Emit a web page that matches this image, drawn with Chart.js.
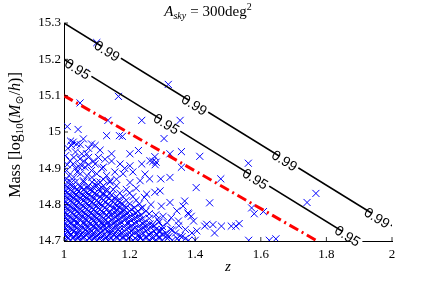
<!DOCTYPE html>
<html>
<head>
<meta charset="utf-8">
<script src="https://cdn.jsdelivr.net/npm/chart.js@4.4.0/dist/chart.umd.min.js"></script>
<style>
  html, body { margin: 0; padding: 0; background: #fff; }
</style>
</head>
<body>
<canvas id="myChart" width="421" height="285"></canvas>
<script>
// axis ticks
const xTicks = [1, 1.2, 1.4, 1.6, 1.8, 2];
const xTickLabels = ['1', '1.2', '1.4', '1.6', '1.8', '2'];
const yTicks = [14.7, 14.8, 14.9, 15, 15.1, 15.2, 15.3];
const yTickLabels = ['14.7', '14.8', '14.9', '15', '15.1', '15.2', '15.3'];

// confidence lines (z, mass)
const line99Z = [1, 2];
const line99Mass = [15.3, 14.742];
const line95Z = [1, 1.896];
const line95Mass = [15.2, 14.7];
const redZ = [1, 1.772];
const redMass = [15.1, 14.7];

// where the contour labels sit (z)
const label99Z = [1.133, 1.399, 1.674, 1.956];
const label95Z = [1.043, 1.314, 1.585, 1.866];

// clusters, scattered ones [z, mass]
const sparseHalos = [
  [1.100,15.246],[1.064,15.163],[1.318,15.131],[1.166,15.098],[1.049,15.080],[1.237,15.032],
  [1.134,15.032],[1.354,15.032],[1.010,15.015],[1.043,15.007],[1.130,14.990],[1.169,14.990],
  [1.178,14.988],[1.305,14.982],[1.562,14.914],[1.768,14.831],[1.741,14.806],[1.572,14.791],
  [1.580,14.775],[1.608,14.781],[1.534,14.748],[1.563,14.702],[1.626,14.702],[1.646,14.706],
  [1.358,14.946],[1.414,14.933],[1.277,14.932],[1.271,14.919],[1.281,14.917],[1.278,14.910],
  [1.358,14.903],[1.261,14.871],[1.295,14.871],[1.478,14.871],[1.403,14.847],[1.444,14.805],
  [1.368,14.810],[1.363,14.796],[1.378,14.777],[1.388,14.768],[1.297,14.796],[1.302,14.768],
  [1.327,14.764],[1.429,14.741],[1.454,14.745],[1.480,14.741],[1.510,14.741],[1.459,14.722],
  [1.524,14.741],[1.323,14.940],[1.323,14.875],[1.247,14.884],[1.262,14.921],[1.293,14.838],
  [1.277,14.834],[1.252,14.829],[1.323,14.806],[1.344,14.783],[1.349,14.755],[1.380,14.774],
  [1.395,14.755],[1.405,14.728],[1.354,14.714],[1.435,14.746],[1.313,14.714],[1.293,14.728]
];

const midHalos = [
  [1.028,14.972],[1.023,14.963],[1.039,14.967],[1.095,14.963],[1.084,14.967],[1.059,14.981],
  [1.145,14.940],[1.201,14.940],[1.227,14.949],[1.069,14.940],[1.054,14.940],[1.049,14.926],
  [1.018,14.921],[1.028,14.912],[1.095,14.912],[1.120,14.903],[1.171,14.912],[1.201,14.907],
  [1.237,14.912],[1.054,14.907],[1.064,14.903],[1.008,14.894],[1.084,14.894],[1.140,14.866],
  [1.201,14.861],[1.232,14.866],[1.008,14.871],[1.023,14.861],[1.059,14.866],[1.100,14.861],
  [1.012,14.955],[1.035,14.945],[1.075,14.930],[1.110,14.950],[1.125,14.925],[1.005,14.935],
  [1.040,14.890],[1.070,14.880],[1.100,14.885],[1.130,14.880],[1.015,14.880],[1.155,14.890],
  [1.180,14.885],[1.045,14.905],[1.090,14.920],[1.220,14.845],[1.245,14.820],[1.265,14.800],
  [1.235,14.790],[1.260,14.775],[1.285,14.760],[1.270,14.745],[1.300,14.740],[1.315,14.750],
  [1.330,14.730],
  [1.020,14.975],[1.050,14.965],[1.075,14.955],[1.030,14.930],[1.060,14.920],[1.010,14.910],
  [1.035,14.900],[1.075,14.910],[1.105,14.930],[1.115,14.900],[1.030,14.875],[1.050,14.885],
  [1.085,14.875],[1.120,14.870],[1.160,14.870],[1.185,14.900],[1.210,14.890],[1.145,14.920]
];

// the crowded corner, row by row: [mass, z values]
const denseRows = [
  [14.702, [1.005,1.02,1.035,1.05,1.07,1.085,1.10,1.12,1.135,1.15,1.17,1.19,1.21,1.225,1.24,1.26,1.28,1.30,1.33,1.35,1.38,1.40]],
  [14.707, [1.012,1.027,1.042,1.058,1.077,1.092,1.108,1.127,1.143,1.162,1.18,1.198,1.217,1.233,1.25,1.27,1.29,1.315,1.345,1.37]],
  [14.712, [1.01,1.03,1.045,1.06,1.08,1.095,1.115,1.13,1.16,1.18,1.20,1.23,1.25,1.27,1.29,1.32,1.36]],
  [14.717, [1.003,1.022,1.037,1.052,1.068,1.088,1.103,1.123,1.138,1.152,1.168,1.188,1.207,1.228,1.258,1.283,1.30]],
  [14.722, [1.00,1.015,1.04,1.055,1.075,1.09,1.11,1.14,1.155,1.175,1.20,1.215,1.24,1.265,1.31,1.34,1.39]],
  [14.727, [1.012,1.03,1.05,1.07,1.085,1.105,1.118,1.132,1.15,1.17,1.185,1.205,1.225,1.25,1.275,1.29]],
  [14.732, [1.005,1.025,1.045,1.065,1.08,1.10,1.125,1.145,1.165,1.19,1.21,1.235,1.255,1.28,1.30,1.325,1.37]],
  [14.737, [1.0,1.018,1.037,1.056,1.074,1.092,1.112,1.13,1.152,1.172,1.198,1.218,1.242,1.265]],
  [14.742, [1.01,1.03,1.05,1.07,1.09,1.105,1.12,1.14,1.16,1.185,1.205,1.23,1.25,1.275,1.35]],
  [14.747, [1.005,1.022,1.04,1.06,1.08,1.098,1.115,1.13,1.15,1.17,1.195,1.215,1.24,1.262]],
  [14.752, [1.00,1.02,1.04,1.06,1.075,1.095,1.115,1.135,1.155,1.175,1.195,1.22,1.245,1.29]],
  [14.757, [1.012,1.03,1.05,1.07,1.09,1.108,1.128,1.145,1.165,1.185,1.205,1.23]],
  [14.762, [1.005,1.025,1.045,1.065,1.085,1.10,1.12,1.15,1.17,1.19,1.215,1.24,1.26]],
  [14.767, [1.0,1.018,1.037,1.056,1.075,1.095,1.115,1.135,1.158,1.18,1.2,1.225]],
  [14.772, [1.01,1.03,1.05,1.07,1.09,1.11,1.13,1.145,1.165,1.185,1.21,1.235,1.28]],
  [14.777, [1.005,1.025,1.045,1.062,1.082,1.1,1.12,1.138,1.155,1.175,1.195,1.22]],
  [14.782, [1.00,1.02,1.04,1.055,1.075,1.095,1.115,1.14,1.16,1.18,1.20,1.225,1.25]],
  [14.787, [1.012,1.032,1.05,1.07,1.09,1.11,1.13,1.16,1.18,1.205]],
  [14.792, [1.005,1.025,1.045,1.065,1.085,1.105,1.125,1.15,1.17,1.19,1.215,1.24]],
  [14.797, [1.0,1.018,1.037,1.058,1.078,1.098,1.118,1.14,1.162,1.185]],
  [14.802, [1.01,1.03,1.05,1.07,1.09,1.11,1.135,1.155,1.175,1.20,1.23]],
  [14.807, [1.005,1.025,1.045,1.065,1.085,1.105,1.125,1.15,1.17]],
  [14.812, [1.00,1.02,1.04,1.06,1.08,1.10,1.12,1.145,1.165,1.19,1.22]],
  [14.817, [1.012,1.03,1.05,1.07,1.092,1.115,1.138,1.155]],
  [14.822, [1.005,1.025,1.045,1.065,1.085,1.11,1.13,1.16,1.18,1.21]],
  [14.827, [1.0,1.018,1.037,1.058,1.078,1.098,1.12,1.145]],
  [14.832, [1.01,1.03,1.05,1.07,1.095,1.12,1.14,1.17,1.20]],
  [14.837, [1.005,1.025,1.045,1.065,1.085,1.11,1.13]],
  [14.842, [1.00,1.02,1.04,1.06,1.08,1.105,1.13,1.15,1.19]],
  [14.847, [1.012,1.032,1.052,1.07,1.09,1.115]],
  [14.852, [1.005,1.025,1.05,1.075,1.10,1.12,1.16]],
  [14.862, [1.01,1.035,1.06,1.085,1.11,1.14]]
];

const haloPoints = [];
sparseHalos.concat(midHalos).forEach(p => haloPoints.push({x: p[0], y: p[1]}));
denseRows.forEach(r => r[1].forEach(z => haloPoints.push({x: z, y: r[0]})));

const toXY = (zs, ms) => zs.map((z, i) => ({x: z, y: ms[i]}));

const serif = "'Liberation Serif', 'DejaVu Serif', serif";

function drawRich(ctx, parts, x, y) {
  let w = 0;
  parts.forEach(p => { ctx.font = p.font; w += ctx.measureText(p.t).width + (p.gap || 0); });
  let cx = x - w / 2;
  parts.forEach(p => {
    ctx.font = p.font;
    ctx.fillText(p.t, cx, y + (p.dy || 0));
    cx += ctx.measureText(p.t).width + (p.gap || 0);
  });
}

const overlay = {
  id: 'overlay',
  afterDatasetsDraw(chart) {
    const {ctx, scales: {x, y}} = chart;
    const drawLabels = (zs, ms, where, txt) => {
      const x1 = x.getPixelForValue(zs[0]), y1 = y.getPixelForValue(ms[0]);
      const x2 = x.getPixelForValue(zs[1]), y2 = y.getPixelForValue(ms[1]);
      const ang = Math.atan2(y2 - y1, x2 - x1);
      where.forEach(z => {
        const m = ms[0] + (ms[1] - ms[0]) * (z - zs[0]) / (zs[1] - zs[0]);
        const px = x.getPixelForValue(z), py = y.getPixelForValue(m);
        ctx.save();
        ctx.translate(px, py);
        ctx.rotate(ang);
        ctx.font = "14px 'Liberation Sans', Arial, sans-serif";
        const w = ctx.measureText(txt).width;
        ctx.fillStyle = '#fff';
        ctx.fillRect(-w / 2 + 7, -4, w - 5, 8);
        ctx.fillStyle = '#000';
        ctx.textAlign = 'center';
        ctx.textBaseline = 'middle';
        ctx.fillText(txt, 0, 2);
        ctx.restore();
      });
    };
    drawLabels(line99Z, line99Mass, label99Z, '0.99');
    drawLabels(line95Z, line95Mass, label95Z, '0.95');

    // inward tick marks
    const a = chart.chartArea;
    ctx.save();
    ctx.strokeStyle = '#000';
    ctx.lineWidth = 0.8;
    ctx.beginPath();
    xTicks.forEach(v => { const p = x.getPixelForValue(v); ctx.moveTo(p, a.bottom); ctx.lineTo(p, a.bottom - 4); });
    yTicks.forEach(v => { const p = y.getPixelForValue(v); ctx.moveTo(a.left, p); ctx.lineTo(a.left + 4, p); });
    ctx.stroke();
    ctx.restore();
  },
  afterDraw(chart) {
    const {ctx} = chart;
    ctx.save();
    ctx.fillStyle = '#000';
    ctx.textBaseline = 'alphabetic';
    // title
    drawRich(ctx, [
      {t: 'A', font: 'italic 15px ' + serif},
      {t: 'sky', font: 'italic 10px ' + serif, dy: 3, gap: 4},
      {t: '=', font: '15px ' + serif, gap: 4},
      {t: '300deg', font: '15px ' + serif},
      {t: '2', font: '10px ' + serif, dy: -6}
    ], 208, 16);
    // x label
    drawRich(ctx, [{t: 'z', font: 'italic 15px ' + serif}], 228, 271);
    // y label
    ctx.translate(20, 135);
    ctx.rotate(-Math.PI / 2);
    drawRich(ctx, [
      {t: 'Mass [log', font: '16px ' + serif},
      {t: '10', font: '11px ' + serif, dy: 3},
      {t: '(', font: '16px ' + serif},
      {t: 'M', font: 'italic 16px ' + serif},
      {t: '⊙', font: '11px ' + serif, dy: 3},
      {t: '/', font: '16px ' + serif},
      {t: 'h', font: 'italic 16px ' + serif},
      {t: ')]', font: '16px ' + serif}
    ], 0, 0);
    ctx.restore();
  }
};

const ctx = document.getElementById('myChart').getContext('2d');
const myChart = new Chart(ctx, {
  type: 'scatter',
  data: {
    datasets: [
      {
        type: 'line', data: toXY(redZ, redMass),
        borderColor: '#ff0000', borderWidth: 3, borderDash: [10, 4, 2, 4],
        pointRadius: 0, fill: false
      },
      {
        type: 'line', data: toXY(line99Z, line99Mass),
        borderColor: '#000', borderWidth: 1.5, pointRadius: 0, fill: false
      },
      {
        type: 'line', data: toXY(line95Z, line95Mass),
        borderColor: '#000', borderWidth: 1.5, pointRadius: 0, fill: false
      },
      {
        data: haloPoints,
        pointStyle: 'crossRot', pointRadius: 5, pointBorderWidth: 1,
        borderColor: '#0000ff', backgroundColor: '#0000ff'
      }
    ]
  },
  options: {
    responsive: false,
    animation: false,
    events: [],
    layout: { padding: { left: 0, right: 29, top: 23, bottom: 0 } },
    plugins: { legend: { display: false }, tooltip: { enabled: false } },
    scales: {
      x: {
        type: 'linear', min: 1, max: 2,
        afterBuildTicks: s => { s.ticks = xTicks.map(v => ({value: v})); },
        afterFit: s => { s.height = 44; },
        grid: { display: false, drawTicks: false },
        border: { display: true, color: '#000', width: 1 },
        ticks: {
          color: '#000', padding: 6, maxRotation: 0,
          font: { family: serif, size: 13 },
          callback: (v, i) => xTickLabels[i]
        }
      },
      y: {
        type: 'linear', min: 14.7, max: 15.3,
        afterBuildTicks: s => { s.ticks = yTicks.map(v => ({value: v})); },
        afterFit: s => { s.width = 64; },
        grid: { display: false, drawTicks: false },
        border: { display: true, color: '#000', width: 1 },
        ticks: {
          color: '#000', padding: 3,
          font: { family: serif, size: 13 },
          callback: (v, i) => yTickLabels[i]
        }
      }
    }
  },
  plugins: [overlay]
});
</script>
</body>
</html>
